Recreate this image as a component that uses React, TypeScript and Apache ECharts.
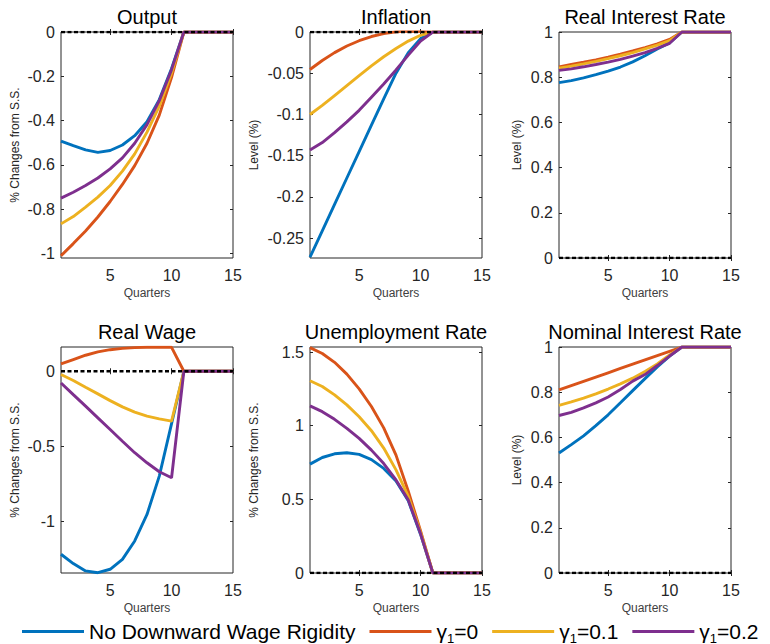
import React, { useEffect, useRef } from 'react';
import * as echarts from 'echarts';

const quarters = [1, 2, 3, 4, 5, 6, 7, 8, 9, 10, 11, 12, 13, 14, 15];
const seriesNames = ['No Downward Wage Rigidity', 'γ1=0', 'γ1=0.1', 'γ1=0.2'];
const colors = ['#0072BD', '#D95319', '#EDB120', '#7E2F8E'];
const steadyState = [0, 0, 0, 0, 0, 0, 0, 0, 0, 0, 0, 0, 0, 0, 0];
const xTicks = [5, 10, 15];

// Output (% changes from S.S.)
const outputNoRigidity = [-0.493, -0.513, -0.532, -0.543, -0.535, -0.51, -0.468, -0.405, -0.305, -0.165, 0, 0, 0, 0, 0];
const outputG0 = [-1.01, -0.955, -0.898, -0.835, -0.765, -0.688, -0.603, -0.502, -0.375, -0.205, 0, 0, 0, 0, 0];
const outputG01 = [-0.866, -0.833, -0.79, -0.745, -0.693, -0.628, -0.55, -0.452, -0.335, -0.185, 0, 0, 0, 0, 0];
const outputG02 = [-0.75, -0.723, -0.693, -0.659, -0.618, -0.568, -0.502, -0.418, -0.31, -0.17, 0, 0, 0, 0, 0];

// Inflation (level %)
const inflNoRigidity = [-0.273, -0.241, -0.209, -0.177, -0.145, -0.113, -0.081, -0.05, -0.025, -0.008, 0, 0, 0, 0, 0];
const inflG0 = [-0.0455, -0.0346, -0.025, -0.017, -0.0106, -0.0055, -0.002, 0.0003, 0.001, 0.0007, 0, 0, 0, 0, 0];
const inflG01 = [-0.1, -0.089, -0.077, -0.065, -0.053, -0.041, -0.03, -0.02, -0.011, -0.004, 0, 0, 0, 0, 0];
const inflG02 = [-0.143, -0.134, -0.122, -0.109, -0.095, -0.079, -0.063, -0.046, -0.028, -0.011, 0, 0, 0, 0, 0];

// Real interest rate (level %)
const rirNoRigidity = [0.776, 0.785, 0.797, 0.811, 0.827, 0.845, 0.868, 0.895, 0.925, 0.952, 1, 1, 1, 1, 1];
const rirG0 = [0.846, 0.856, 0.866, 0.877, 0.889, 0.902, 0.916, 0.931, 0.947, 0.967, 1, 1, 1, 1, 1];
const rirG01 = [0.84, 0.849, 0.859, 0.87, 0.882, 0.895, 0.909, 0.925, 0.942, 0.962, 1, 1, 1, 1, 1];
const rirG02 = [0.83, 0.837, 0.846, 0.856, 0.867, 0.879, 0.893, 0.909, 0.928, 0.95, 1, 1, 1, 1, 1];

// Real wage (% changes from S.S.)
const wageNoRigidity = [-1.222, -1.284, -1.333, -1.345, -1.322, -1.256, -1.133, -0.956, -0.7, -0.35, 0, 0, 0, 0, 0];
const wageG0 = [0.049, 0.078, 0.107, 0.129, 0.144, 0.153, 0.158, 0.16, 0.16, 0.16, 0, 0, 0, 0, 0];
const wageG01 = [-0.022, -0.062, -0.107, -0.151, -0.196, -0.238, -0.273, -0.3, -0.318, -0.333, 0, 0, 0, 0, 0];
const wageG02 = [-0.078, -0.156, -0.233, -0.311, -0.389, -0.467, -0.544, -0.611, -0.671, -0.711, 0, 0, 0, 0, 0];

// Unemployment rate (% changes from S.S.)
const unempNoRigidity = [0.739, 0.784, 0.809, 0.816, 0.805, 0.77, 0.71, 0.625, 0.49, 0.262, 0, 0, 0, 0, 0];
const unempG0 = [1.53, 1.49, 1.43, 1.35, 1.25, 1.13, 0.985, 0.8, 0.555, 0.285, 0, 0, 0, 0, 0];
const unempG01 = [1.305, 1.266, 1.209, 1.141, 1.061, 0.966, 0.848, 0.7, 0.52, 0.275, 0, 0, 0, 0, 0];
const unempG02 = [1.134, 1.095, 1.043, 0.982, 0.914, 0.834, 0.743, 0.632, 0.495, 0.266, 0, 0, 0, 0, 0];

// Nominal interest rate (level %)
const nirNoRigidity = [0.531, 0.568, 0.607, 0.652, 0.7, 0.753, 0.807, 0.86, 0.912, 0.96, 1, 1, 1, 1, 1];
const nirG0 = [0.81, 0.829, 0.848, 0.867, 0.886, 0.905, 0.924, 0.943, 0.962, 0.981, 1, 1, 1, 1, 1];
const nirG01 = [0.742, 0.757, 0.774, 0.793, 0.814, 0.837, 0.862, 0.892, 0.925, 0.965, 1, 1, 1, 1, 1];
const nirG02 = [0.697, 0.711, 0.731, 0.753, 0.779, 0.812, 0.849, 0.878, 0.918, 0.96, 1, 1, 1, 1, 1];

const panelTitles = ['Output', 'Inflation', 'Real Interest Rate', 'Real Wage', 'Unemployment Rate', 'Nominal Interest Rate'];
const yLabels = ['% Changes from S.S.', 'Level (%)', 'Level (%)', '% Changes from S.S.', '% Changes from S.S.', 'Level (%)'];
const yTickSets = [
  [-1, -0.8, -0.6, -0.4, -0.2, 0],
  [-0.25, -0.2, -0.15, -0.1, -0.05, 0],
  [0, 0.2, 0.4, 0.6, 0.8, 1],
  [-1, -0.5, 0],
  [0, 0.5, 1, 1.5],
  [0, 0.2, 0.4, 0.6, 0.8, 1],
];
const yRanges = [
  [-1.02, 0],
  [-0.274, 0],
  [0, 1],
  [-1.347, 0.162],
  [0, 1.534],
  [0, 1],
];
const panelData = [
  [outputNoRigidity, outputG0, outputG01, outputG02],
  [inflNoRigidity, inflG0, inflG01, inflG02],
  [rirNoRigidity, rirG0, rirG01, rirG02],
  [wageNoRigidity, wageG0, wageG01, wageG02],
  [unempNoRigidity, unempG0, unempG01, unempG02],
  [nirNoRigidity, nirG0, nirG01, nirG02],
];

const FONT = '"Liberation Sans", Arial, Helvetica, sans-serif';
const AX = '#262626';

// layout
const colLeft = [61, 310, 559];
const rowTop = [32, 347];
const PW = 172;
const PH = 226;
const yNameX = [15, 254, 517];

export default function App() {
  const ref = useRef<HTMLDivElement>(null);
  useEffect(() => {
    const chart = echarts.init(ref.current!, null, { renderer: 'svg' });
    const grid: any[] = [];
    const xAxis: any[] = [];
    const yAxis: any[] = [];
    const series: any[] = [];
    const graphic: any[] = [];
    const fmt = (v: number) => String(parseFloat(Number(v).toFixed(4)));

    panelTitles.forEach((title, i) => {
      const col = i % 3;
      const row = Math.floor(i / 3);
      const left = colLeft[col];
      const top = rowTop[row];
      grid.push({ left, top, width: PW, height: PH, show: true, borderColor: AX, borderWidth: 1, backgroundColor: '#fff' });
      const tick = { show: true, inside: true, length: 3, lineStyle: { color: AX, width: 1 } };
      xAxis.push({
        type: 'value', gridIndex: i, min: 1, max: 15, position: 'bottom',
        axisLine: { show: false }, splitLine: { show: false },
        axisTick: { ...tick, customValues: xTicks },
        axisLabel: { customValues: xTicks, color: AX, fontSize: 16, fontFamily: FONT, margin: 9 },
      });
      xAxis.push({
        type: 'value', gridIndex: i, min: 1, max: 15, position: 'top',
        axisLine: { show: false }, splitLine: { show: false },
        axisTick: { ...tick, customValues: xTicks },
        axisLabel: { show: false },
      });
      const yt = yTickSets[i];
      const [ymin, ymax] = yRanges[i];
      yAxis.push({
        type: 'value', gridIndex: i, min: ymin, max: ymax, position: 'left',
        axisLine: { show: false }, splitLine: { show: false },
        axisTick: { ...tick, customValues: yt },
        axisLabel: { customValues: yt, color: AX, fontSize: 16, fontFamily: FONT, margin: 6, formatter: fmt },
      });
      yAxis.push({
        type: 'value', gridIndex: i, min: ymin, max: ymax, position: 'right',
        axisLine: { show: false }, splitLine: { show: false },
        axisTick: { ...tick, customValues: yt },
        axisLabel: { show: false },
      });
      const data = panelData[i];
      data.forEach((arr, j) => {
        series.push({
          type: 'line', name: seriesNames[j], xAxisIndex: 2 * i, yAxisIndex: 2 * i,
          data: quarters.map((q, k) => [q, arr[k]]),
          showSymbol: false, symbol: 'none', silent: true,
          lineStyle: { color: colors[j], width: 2.9 }, itemStyle: { color: colors[j] },
          z: 3 + j,
        });
      });
      series.push({
        type: 'line', name: 'ss', xAxisIndex: 2 * i, yAxisIndex: 2 * i,
        data: quarters.map((q, k) => [q, steadyState[k]]),
        showSymbol: false, symbol: 'none', silent: true,
        lineStyle: { color: '#000', width: 2.3, type: [4, 2.5] },
        z: 10,
      });
      const cx = left + PW / 2;
      graphic.push({
        type: 'text', x: cx, y: row === 0 ? 17 : 332,
        style: { text: title, fontSize: 20, fontFamily: FONT, fill: '#000', textAlign: 'center', textVerticalAlign: 'middle' },
      });
      graphic.push({
        type: 'text', x: cx, y: top + PH + 35,
        style: { text: 'Quarters', fontSize: 12, fontFamily: FONT, fill: '#404040', textAlign: 'center', textVerticalAlign: 'middle' },
      });
      graphic.push({
        type: 'text', x: yNameX[col], y: top + PH / 2, rotation: Math.PI / 2,
        style: { text: yLabels[i], fontSize: 12, fontFamily: FONT, fill: '#262626', textAlign: 'center', textVerticalAlign: 'middle' },
      });
    });

    chart.setOption({
      animation: false,
      backgroundColor: '#fff',
      grid, xAxis, yAxis, series, graphic,
      legend: {
        data: seriesNames, left: 17, top: 616, itemWidth: 62, itemHeight: 3, itemGap: 14,
        icon: 'rect', selectedMode: false,
        formatter: (name: string) => name.startsWith('γ') ? `{g|γ}{s|1}{g|=${name.split('=')[1]}}` : `{g|${name}}`,
        textStyle: {
          fontSize: 21, fontFamily: FONT, color: '#000',
          rich: {
            g: { fontSize: 21, fontFamily: FONT, color: '#000', lineHeight: 26, verticalAlign: 'middle' },
            s: { fontSize: 13, fontFamily: FONT, color: '#000', lineHeight: 26, verticalAlign: 'bottom' },
          },
        },
      },
    });
    return () => chart.dispose();
  }, []);
  return <div ref={ref} style={{ position: 'absolute', left: 0, top: 0, width: 770, height: 644, background: '#fff' }} />;
}
